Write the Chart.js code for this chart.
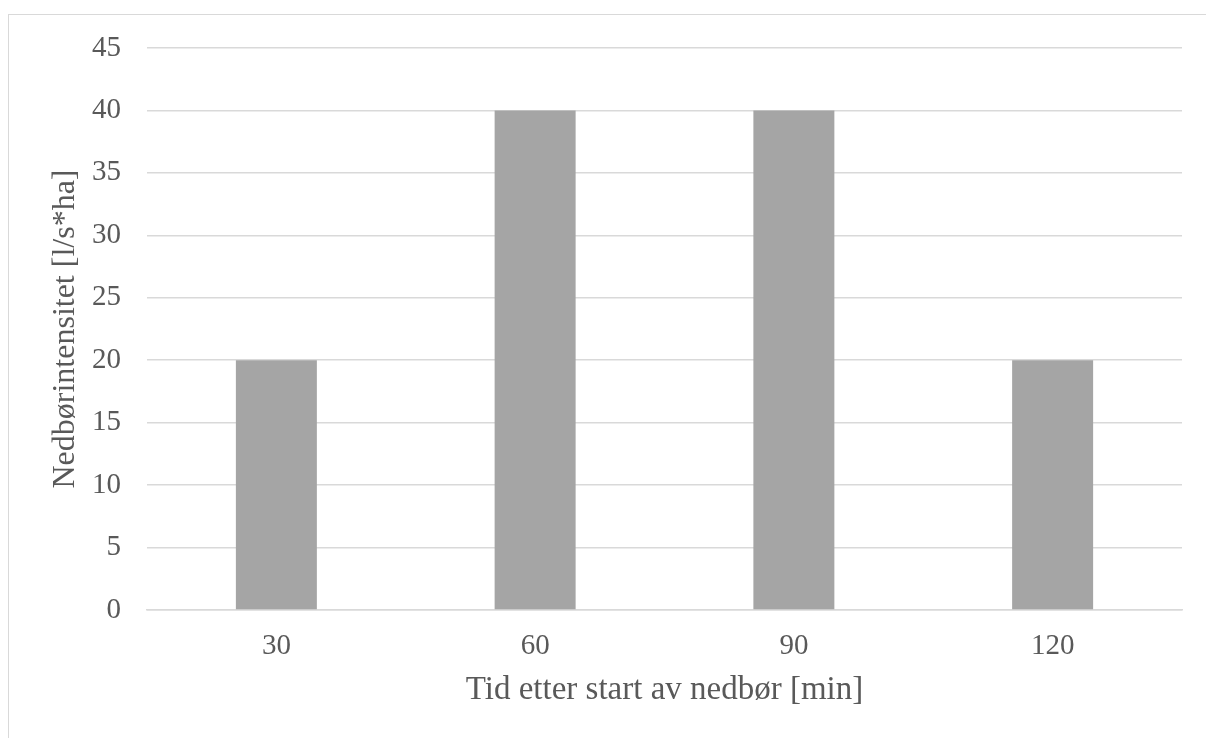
<!DOCTYPE html>
<html>
<head>
<meta charset="utf-8">
<script src="https://cdn.jsdelivr.net/npm/chart.js@4"></script>
<style>
  html, body { margin: 0; padding: 0; background: #fff; overflow: hidden; }
  #wrap { position: absolute; left: 0; top: 0; width: 1206px; height: 738px; }
  #frame { position: absolute; left: 8px; top: 14px; width: 1300px; height: 800px; border: 1px solid #d9d9d9; box-sizing: border-box; }
  canvas { position: absolute; left: 0; top: 0; }
</style>
</head>
<body>
<div id="wrap">
  <div id="frame"></div>
  <canvas id="c" width="1206" height="738"></canvas>
</div>
<script>
const categories = ["30", "60", "90", "120"];
const values = [20, 40, 40, 20];
const yTicks = [0, 5, 10, 15, 20, 25, 30, 35, 40, 45];
const xTitle = "Tid etter start av nedbør [min]";
const yTitle = "Nedbørintensitet [l/s*ha]";

const textColor = "#595959";
const serif = "'Liberation Serif', 'Times New Roman', serif";

new Chart(document.getElementById("c"), {
  type: "bar",
  data: {
    labels: categories,
    datasets: [{
      data: values,
      backgroundColor: "#a5a5a5",
      borderWidth: 0,
      barPercentage: 0.313,
      categoryPercentage: 1.0
    }]
  },
  options: {
    responsive: false,
    animation: false,
    layout: { padding: { left: 0, top: 48, right: 24, bottom: 0 } },
    plugins: { legend: { display: false }, tooltip: { enabled: false } },
    scales: {
      x: {
        grid: { display: false, drawTicks: false },
        border: { display: true, color: "#d9d9d9", width: 1.5 },
        ticks: { color: textColor, font: { family: serif, size: 29 }, padding: 19, maxRotation: 0 },
        title: { display: true, text: xTitle, color: textColor, font: { family: serif, size: 33 }, padding: { top: 0, bottom: 28 } },
        afterFit(s) { s.height = 128; }
      },
      y: {
        min: 0, max: 45,
        afterBuildTicks(s) { s.ticks = yTicks.map(v => ({ value: v })); },
        grid: { color: "#d9d9d9", lineWidth: 1.5, drawTicks: false },
        border: { display: false },
        ticks: { color: textColor, font: { family: serif, size: 29 }, padding: 26 },
        title: { display: true, text: yTitle, color: textColor, font: { family: serif, size: 32 }, padding: { top: 46, bottom: 0 } },
        afterFit(s) { s.width = 147; }
      }
    }
  }
});
</script>
</body>
</html>
